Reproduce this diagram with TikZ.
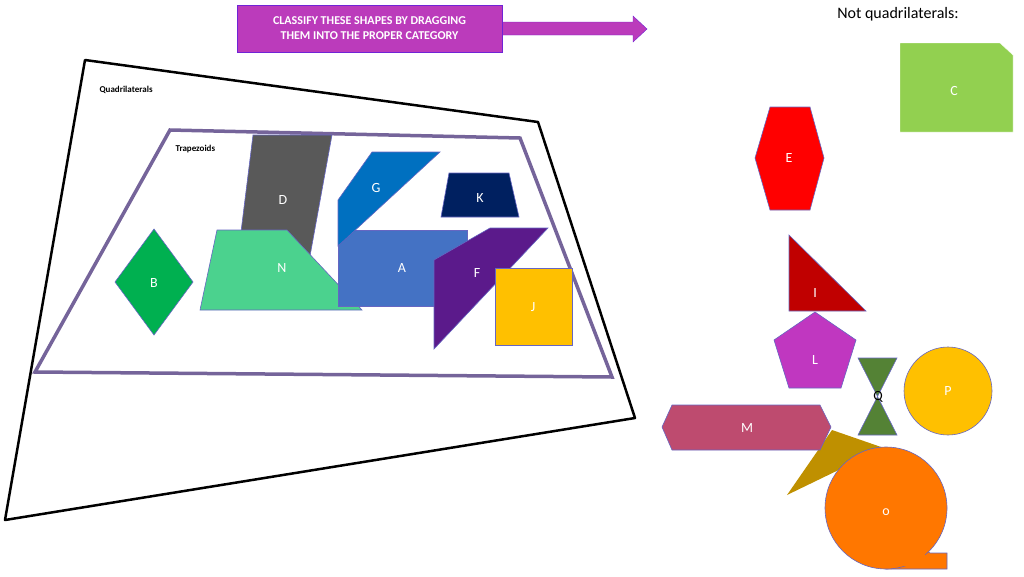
\documentclass[tikz,border=0pt]{standalone}
\usepackage{fontspec}
\setmainfont{Carlito}
\begin{document}
\begin{tikzpicture}[x=1pt,y=-1pt,
 sh/.style={draw=black!40!blue!60, line width=0.6pt},
 lbl/.style={text=white, font=\fontsize{14}{14}\selectfont},
 cat/.style={font=\bfseries\fontsize{9}{9}\selectfont, anchor=west}]
\useasboundingbox (0,0) rectangle (1024,576);
\definecolor{mag}{HTML}{BB3BBB}
% arrow banner
\fill[mag, draw=mag!60!blue] (500,22) -- (633,22) -- (633,16) -- (647,29) -- (633,42) -- (633,35) -- (500,35) -- cycle;
\node[draw=mag!60!blue, fill=mag, minimum width=265pt, minimum height=47pt, align=center, text=white, font=\bfseries\fontsize{12}{15}\selectfont] (banner) at (369.5,28.5) {CLASSIFY THESE SHAPES BY DRAGGING\\THEM INTO THE PROPER CATEGORY};
% regions
\draw[line width=2.5pt, line join=round] (85,60) -- (538,122) -- (635,418) -- (5,520) -- cycle;
\draw[line width=3.5pt, color={rgb,255:red,117;green,100;blue,154}] (170,130) -- (520,138) -- (612,377) -- (35,372) -- cycle;
\node[cat] (q) at (96,90) {Quadrilaterals};
\node[cat] (t) at (172,149) {Trapezoids};
% shapes
\filldraw[sh, fill={rgb,255:red,89;green,89;blue,89}] (253,135) -- (332,135) -- (310,256) -- (238,256) -- cycle;
\node[lbl] (D) at (283,200) {D};
\filldraw[sh, fill={rgb,255:red,75;green,210;blue,142}] (217,230) -- (287,230) -- (362,310) -- (200,310) -- cycle;
\node[lbl] (N) at (282,268) {N};
\filldraw[sh, fill={rgb,255:red,68;green,114;blue,196}] (338,230) rectangle (467,306);
\node[lbl] (A) at (402,268) {A};
\filldraw[sh, fill={rgb,255:red,0;green,112;blue,192}] (372,152) -- (440,152) -- (338,246) -- (338,200) -- cycle;
\node[lbl] (G) at (376,188) {G};
\filldraw[sh, fill={rgb,255:red,0;green,32;blue,96}] (449,173) -- (509,173) -- (519,217) -- (441,217) -- cycle;
\node[lbl] (K) at (480,198) {K};
\filldraw[sh, fill={rgb,255:red,91;green,26;blue,139}] (490,228) -- (548,228) -- (434,349) -- (434,260) -- cycle;
\node[lbl] (F) at (477,273) {F};
\filldraw[sh, fill={rgb,255:red,255;green,192;blue,0}] (495,268) rectangle (572,345);
\node[lbl] (J) at (533,307) {J};
\filldraw[sh, fill={rgb,255:red,0;green,176;blue,80}] (154,229) -- (193,282) -- (154,335) -- (115,282) -- cycle;
\node[lbl] (B) at (154,283) {B};
% non-quadrilaterals
\node[font=\fontsize{16}{16}\selectfont] (nq) at (898,14) {Not quadrilaterals:};
\filldraw[draw=white, fill={rgb,255:red,146;green,208;blue,80}] (900,43) -- (1000,43) -- (1013,55) -- (1013,132) -- (900,132) -- cycle;
\node[lbl] (C) at (954,91) {C};
\filldraw[sh, fill=red] (770,107) -- (810,107) -- (824,158) -- (810,210) -- (770,210) -- (755,158) -- cycle;
\node[lbl] (E) at (789,158) {E};
\filldraw[sh, fill={rgb,255:red,192;green,0;blue,0}] (789,235) -- (789,311) -- (866,311) -- cycle;
\node[lbl] (I) at (815,293) {I};
\filldraw[sh, fill={rgb,255:red,192;green,55;blue,192}] (815,312) -- (856,340) -- (841,388) -- (789,388) -- (774,340) -- cycle;
\node[lbl] (L) at (815,360) {L};
\filldraw[sh, fill={rgb,255:red,84;green,130;blue,53}] (858,358) -- (897,358) -- (858,435) -- (897,435) -- cycle;
\node[font=\fontsize{14}{14}\selectfont] (Q) at (878,397) {Q};
\filldraw[sh, fill={rgb,255:red,255;green,192;blue,0}] (948,391) circle (44);
\node[lbl] (P) at (948,391) {P};
\filldraw[fill={rgb,255:red,191;green,144;blue,0}, draw=none] (832,430) -- (884,448) -- (787,495) -- cycle;
\filldraw[sh, fill={rgb,255:red,190;green,75;blue,111}] (672,405) -- (820,405) -- (831,427) -- (820,450) -- (672,450) -- (662,427) -- cycle;
\node[lbl] (M) at (747,428) {M};
\definecolor{org}{HTML}{FF7700}
\filldraw[sh, fill=org] (886,569) -- (947,569) -- (947,553) -- (930,553) -- (915,540) -- cycle;
\filldraw[sh, fill=org] (886,508) circle (61);
\fill[org] (890,566) -- (945,566) -- (945,555.5) -- (925,555.5) -- (920,540) -- cycle;
\node[lbl] (O) at (886,512) {o};
\end{tikzpicture}
\end{document}
